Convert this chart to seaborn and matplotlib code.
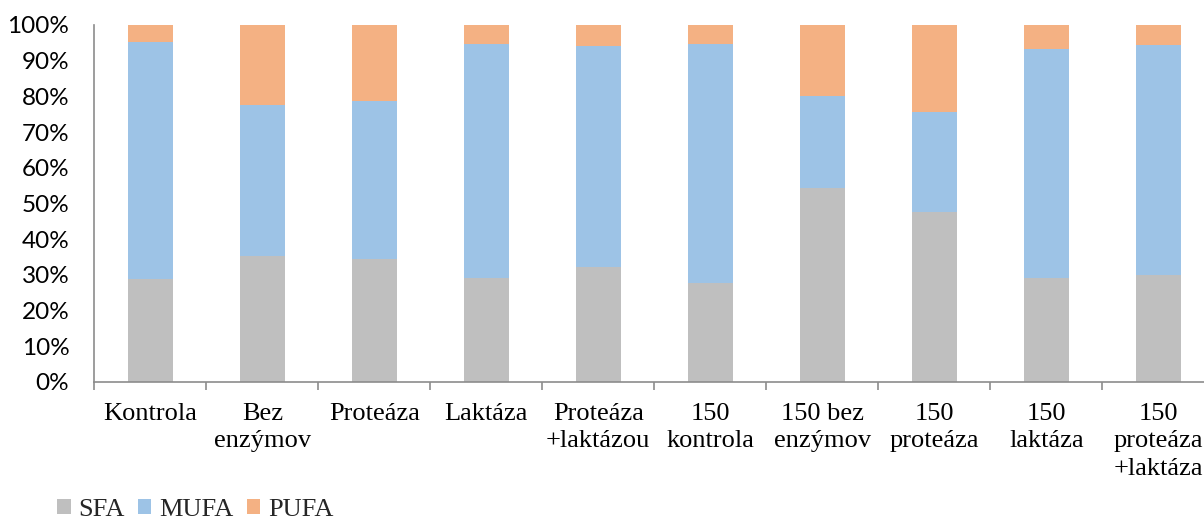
import matplotlib
matplotlib.use("Agg")
import matplotlib.pyplot as plt
import seaborn as sns
import pandas as pd
import numpy as np
from matplotlib.patches import Patch
from matplotlib.ticker import FixedLocator, PercentFormatter

categories = ["Kontrola", "Bez\nenzýmov", "Proteáza", "Laktáza", "Proteáza\n+laktázou",
              "150\nkontrola", "150 bez\nenzýmov", "150\nproteáza", "150\nlaktáza",
              "150\nproteáza\n+laktáza"]
sfa = [28.9, 35.3, 34.4, 29.2, 32.1, 27.6, 54.3, 47.7, 29.2, 29.9]
mufa = [66.4, 42.4, 44.3, 65.4, 62.0, 67.2, 25.9, 27.9, 64.1, 64.5]
pufa = [4.7, 22.3, 21.3, 5.4, 5.9, 5.2, 19.8, 24.4, 6.7, 5.6]
series = ["SFA", "MUFA", "PUFA"]
colors = {"SFA": "#BFBFBF", "MUFA": "#9DC3E6", "PUFA": "#F4B183"}

df = pd.DataFrame({"cat": categories, "SFA": sfa, "MUFA": mufa, "PUFA": pufa})
tot = df[series].sum(axis=1)
for s in series:
    df[s] = df[s] / tot * 100
df["c_SFA"] = df["SFA"]
df["c_MUFA"] = df["SFA"] + df["MUFA"]
df["c_PUFA"] = df["c_MUFA"] + df["PUFA"]

sns.set_theme(style="white")
plt.rcParams["font.family"] = ["Lato", "DejaVu Sans"]

fig = plt.figure(figsize=(12.04, 5.25), dpi=100)
ax = fig.add_axes([94.3 / 1204, 1 - 382 / 525, 1120 / 1204, 357 / 525])

for s in ["PUFA", "MUFA", "SFA"]:
    sns.barplot(data=df, x="cat", y="c_" + s, color=colors[s], width=0.4,
                saturation=1, ax=ax, edgecolor="none", linewidth=0)

ax.set_xlim(-0.5, len(categories) - 0.5)
ax.set_ylim(0, 100)
ax.set_xlabel("")
ax.set_ylabel("")
ax.yaxis.set_major_locator(FixedLocator(np.arange(0, 101, 10)))
ax.yaxis.set_major_formatter(PercentFormatter(decimals=0))

for side in ["top", "right"]:
    ax.spines[side].set_visible(False)
axcol = "#8C8C8C"
for side in ["left", "bottom"]:
    ax.spines[side].set_color(axcol)
    ax.spines[side].set_linewidth(1.2)

ax.set_xticks(range(len(categories)))
ax.set_xticklabels(categories, family=["Liberation Serif", "DejaVu Serif"],
                   fontsize=19, linespacing=1.32)
ax.tick_params(axis="x", which="major", length=0, pad=15, colors="black")
ax.set_xticks(np.arange(-0.5, len(categories), 1), minor=True)
ax.tick_params(axis="x", which="minor", length=6, width=1.2, color=axcol, direction="out")
ax.tick_params(axis="y", length=6, width=1.2, color=axcol, direction="out",
               pad=12, labelsize=17.5, labelcolor="black")
ax.tick_params(axis="x", which="minor", bottom=True)

handles = [Patch(facecolor=colors[s], edgecolor="none", label=s) for s in series]
fig.legend(handles=handles, loc="lower left", bbox_to_anchor=(0.028, -0.038), ncol=3,
           frameon=False, handlelength=0.5, handleheight=0.5, handletextpad=0.3,
           columnspacing=0.5, prop={"family": ["Liberation Serif"], "size": 19})

fig.savefig("out.png", dpi=100)
